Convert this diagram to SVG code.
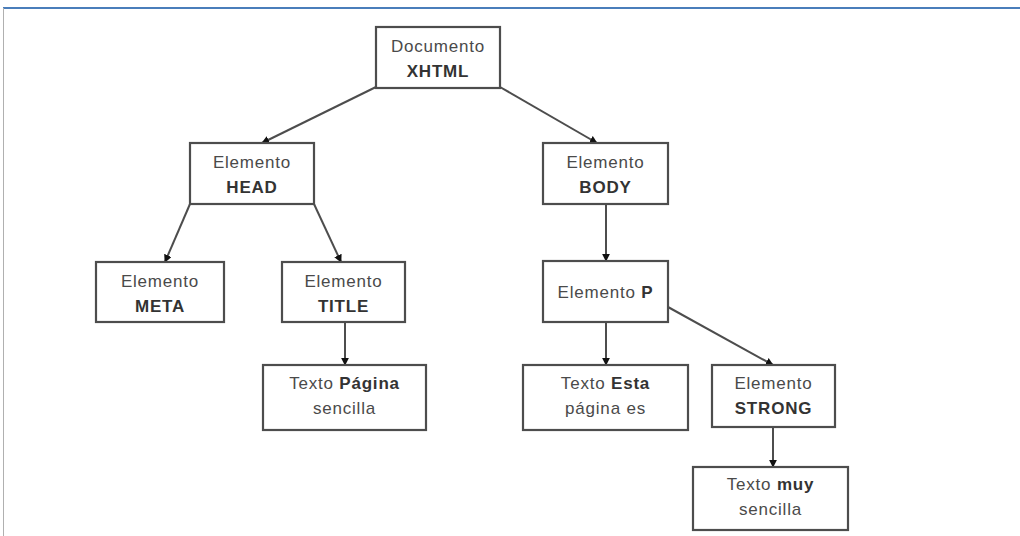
<svg xmlns="http://www.w3.org/2000/svg" width="1020" height="536" viewBox="0 0 1020 536">
<style>
.box{fill:#fff;stroke:#4d4d4d;stroke-width:2.2}
.t{font-family:"Liberation Sans",Arial,sans-serif;font-size:17px;fill:#4a4a4a;text-anchor:middle;letter-spacing:0.8px}
.b{font-weight:bold;fill:#333}
.c{fill:none;stroke:#4d4d4d;stroke-width:2}
</style>
<defs>
<marker id="ah" viewBox="0 0 10 10" refX="9" refY="5" markerWidth="4" markerHeight="4" orient="auto" markerUnits="strokeWidth">
<path d="M0,0 L10,5 L0,10 z" fill="#111"/>
</marker>
</defs>
<rect x="0" y="0" width="1020" height="536" fill="#fff"/>
<line x1="3" y1="8" x2="1020" y2="8" stroke="#4a7ebb" stroke-width="2"/>
<line x1="3.5" y1="8" x2="3.5" y2="536" stroke="#b0b0b0" stroke-width="1"/>
<g id="connectors">
<line class="c" x1="378" y1="86" x2="262" y2="143" marker-end="url(#ah)"/>
<line class="c" x1="500" y1="87" x2="597" y2="143" marker-end="url(#ah)"/>
<line class="c" x1="190" y1="204" x2="165" y2="262" marker-end="url(#ah)"/>
<line class="c" x1="314" y1="204" x2="341" y2="262" marker-end="url(#ah)"/>
<line class="c" x1="606" y1="204" x2="606" y2="261" marker-end="url(#ah)"/>
<line class="c" x1="345" y1="322" x2="345" y2="365" marker-end="url(#ah)"/>
<line class="c" x1="606" y1="322" x2="606" y2="365" marker-end="url(#ah)"/>
<line class="c" x1="668" y1="307" x2="773" y2="365" marker-end="url(#ah)"/>
<line class="c" x1="773" y1="427" x2="773" y2="467" marker-end="url(#ah)"/>
</g>
<g id="doc"><rect class="box" x="376" y="27" width="124" height="61"/>
<text class="t" x="438" y="52">Documento</text><text class="t b" x="438" y="77">XHTML</text></g>
<g id="head"><rect class="box" x="190" y="143" width="124" height="61"/>
<text class="t" x="252" y="168">Elemento</text><text class="t b" x="252" y="193">HEAD</text></g>
<g id="body"><rect class="box" x="543" y="143" width="125" height="61"/>
<text class="t" x="605.5" y="168">Elemento</text><text class="t b" x="605.5" y="193">BODY</text></g>
<g id="meta"><rect class="box" x="96" y="262" width="128" height="60"/>
<text class="t" x="160" y="287">Elemento</text><text class="t b" x="160" y="312">META</text></g>
<g id="title"><rect class="box" x="282" y="262" width="123" height="60"/>
<text class="t" x="343.5" y="287">Elemento</text><text class="t b" x="343.5" y="312">TITLE</text></g>
<g id="p"><rect class="box" x="543" y="261" width="125" height="61"/>
<text class="t" x="605.5" y="298">Elemento <tspan class="b">P</tspan></text></g>
<g id="texto-pagina"><rect class="box" x="263" y="365" width="163" height="65"/>
<text class="t" x="344.5" y="389">Texto <tspan class="b">Página</tspan></text><text class="t" x="344.5" y="414">sencilla</text></g>
<g id="texto-esta"><rect class="box" x="523" y="365" width="165" height="65"/>
<text class="t" x="605.5" y="389">Texto <tspan class="b">Esta</tspan></text><text class="t" x="605.5" y="414">página es</text></g>
<g id="strong"><rect class="box" x="712" y="365" width="123" height="62"/>
<text class="t" x="773.5" y="389">Elemento</text><text class="t b" x="773.5" y="414">STRONG</text></g>
<g id="texto-muy"><rect class="box" x="693" y="467" width="155" height="63"/>
<text class="t" x="770.5" y="490">Texto <tspan class="b">muy</tspan></text><text class="t" x="770.5" y="515">sencilla</text></g>
</svg>
